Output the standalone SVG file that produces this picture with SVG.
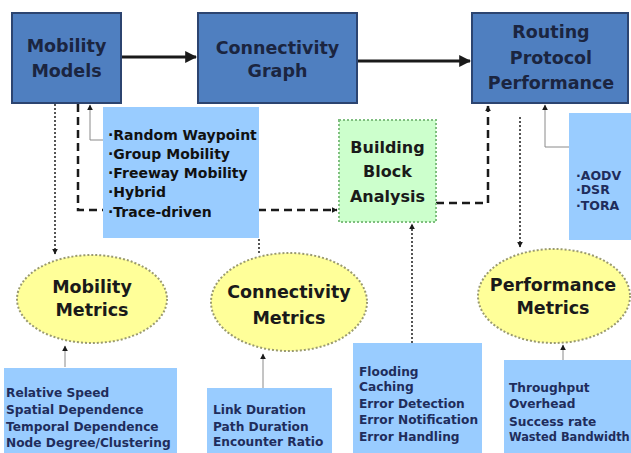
<svg xmlns="http://www.w3.org/2000/svg" width="631" height="453" viewBox="0 0 631 453">
<defs>
<style>
.main{fill:#4f7fc0;stroke:#2c4470;stroke-width:2}
.list{fill:#99ccff}
.bb{fill:#ccffcc;stroke:#7fbf7f;stroke-width:2;stroke-dasharray:2,2}
.ell{fill:#ffff99;stroke:#9a9a70;stroke-width:2;stroke-dasharray:2,2}
.t{font-family:"DejaVu Sans",Verdana,sans-serif;font-weight:bold;text-anchor:middle;fill:#1b2540;font-size:17.5px}
.tb{font-family:"DejaVu Sans",Verdana,sans-serif;font-weight:bold;text-anchor:middle;fill:#1a1a1a;font-size:16px}
.l{font-family:"DejaVu Sans",Verdana,sans-serif;font-weight:bold;fill:#111;font-size:14px}
.s{font-family:"DejaVu Sans",Verdana,sans-serif;font-weight:bold;fill:#1f2d5c;font-size:12.2px}
.solid{fill:none;stroke:#1a1a1a;stroke-width:3}
.thin{fill:none;stroke:#8a8a8a;stroke-width:1}
.dash{fill:none;stroke:#1a1a1a;stroke-width:2.5;stroke-dasharray:8,5}
.dot{fill:none;stroke:#555;stroke-width:2;stroke-dasharray:2,2}
</style>
<marker id="ah" viewBox="0 0 10 10" refX="9" refY="5" markerWidth="4" markerHeight="4" orient="auto" markerUnits="strokeWidth"><path d="M0,0 L10,5 L0,10 z" fill="#1a1a1a"/></marker>
<marker id="as" viewBox="0 0 10 10" refX="9" refY="5" markerWidth="6" markerHeight="6" orient="auto" markerUnits="userSpaceOnUse"><path d="M0,0 L10,5 L0,10 z" fill="#1a1a1a"/></marker>
</defs>

<g id="connectors">
<path class="solid" d="M121,57 H196" marker-end="url(#ah)"/>
<path class="solid" d="M357,61 H470" marker-end="url(#ah)"/>
<path class="thin" d="M103,140 H90 V105" marker-end="url(#as)"/>
<path class="dash" d="M78,104 V210 H337" marker-end="url(#as)"/>
<path class="dash" d="M436,203 H488 V106" marker-end="url(#as)"/>
<path class="dot" d="M55,104 V254" marker-end="url(#as)"/>
<path class="dot" d="M520,117 V247" marker-end="url(#as)"/>
<path class="thin" d="M569,147 H545 V105" marker-end="url(#as)"/>
<path class="dot" d="M259,239 V253"/>
<path class="dot" d="M412,343 V224" marker-end="url(#as)"/>
<path class="thin" d="M65,367 V346" marker-end="url(#as)"/>
<path class="thin" d="M263,388 V354" marker-end="url(#as)"/>
<path class="thin" d="M563,360 V345" marker-end="url(#as)"/>
</g>

<g id="mobility-models">
<rect class="main" x="12" y="13" width="109" height="90"/>
<text class="t" x="66.5" y="52">Mobility</text>
<text class="t" x="66.5" y="77">Models</text>
</g>

<g id="connectivity-graph">
<rect class="main" x="198" y="13" width="159" height="90"/>
<text class="t" x="277.5" y="54">Connectivity</text>
<text class="t" x="277.5" y="77">Graph</text>
</g>

<g id="routing-protocol-performance">
<rect class="main" x="472" y="13" width="156" height="90"/>
<text class="t" x="551" y="38">Routing</text>
<text class="t" x="551" y="64">Protocol</text>
<text class="t" x="551" y="89">Performance</text>
</g>

<g id="mobility-model-list">
<rect class="list" x="103" y="107" width="156" height="131"/>
<text class="l" x="108" y="140">·Random Waypoint</text>
<text class="l" x="108" y="159">·Group Mobility</text>
<text class="l" x="108" y="178">·Freeway Mobility</text>
<text class="l" x="108" y="197">·Hybrid</text>
<text class="l" x="108" y="217">·Trace-driven</text>
</g>

<g id="building-block-analysis">
<rect class="bb" x="339" y="120" width="97" height="102"/>
<text class="tb" x="387.5" y="153">Building</text>
<text class="tb" x="387.5" y="177">Block</text>
<text class="tb" x="387.5" y="202">Analysis</text>
</g>

<g id="protocol-list">
<rect class="list" x="569" y="113" width="62" height="127"/>
<text class="s" x="576" y="180" style="font-size:12.5px">·AODV</text>
<text class="s" x="576" y="194" style="font-size:12.5px">·DSR</text>
<text class="s" x="576" y="210" style="font-size:12.5px">·TORA</text>
</g>

<g id="mobility-metrics">
<ellipse class="ell" cx="92" cy="299" rx="75" ry="44"/>
<text class="tb" x="92" y="293" style="font-size:17.5px">Mobility</text>
<text class="tb" x="92" y="316" style="font-size:17.5px">Metrics</text>
</g>

<g id="connectivity-metrics">
<ellipse class="ell" cx="289" cy="302" rx="78" ry="49"/>
<text class="tb" x="289" y="298" style="font-size:17.5px">Connectivity</text>
<text class="tb" x="289" y="324" style="font-size:17.5px">Metrics</text>
</g>

<g id="performance-metrics">
<ellipse class="ell" cx="554" cy="296" rx="76" ry="47"/>
<text class="tb" x="553" y="291" style="font-size:17.5px">Performance</text>
<text class="tb" x="553" y="314" style="font-size:17.5px">Metrics</text>
</g>

<g id="mobility-metrics-list">
<rect class="list" x="4" y="368" width="173" height="85"/>
<text class="s" x="6" y="397">Relative Speed</text>
<text class="s" x="6" y="414">Spatial Dependence</text>
<text class="s" x="6" y="431">Temporal Dependence</text>
<text class="s" x="6" y="447">Node Degree/Clustering</text>
</g>

<g id="connectivity-metrics-list">
<rect class="list" x="207" y="388" width="125" height="65"/>
<text class="s" x="213" y="414">Link Duration</text>
<text class="s" x="213" y="431">Path Duration</text>
<text class="s" x="213" y="446">Encounter Ratio</text>
</g>

<g id="building-block-list">
<rect class="list" x="353" y="343" width="129" height="110"/>
<text class="s" x="359" y="376">Flooding</text>
<text class="s" x="359" y="391">Caching</text>
<text class="s" x="359" y="408">Error Detection</text>
<text class="s" x="359" y="424">Error Notification</text>
<text class="s" x="359" y="441">Error Handling</text>
</g>

<g id="performance-metrics-list">
<rect class="list" x="504" y="360" width="127" height="93"/>
<text class="s" x="509" y="392">Throughput</text>
<text class="s" x="509" y="408">Overhead</text>
<text class="s" x="509" y="426">Success rate</text>
<text class="s" x="509" y="441" style="font-size:11.4px">Wasted Bandwidth</text>
</g>
</svg>
